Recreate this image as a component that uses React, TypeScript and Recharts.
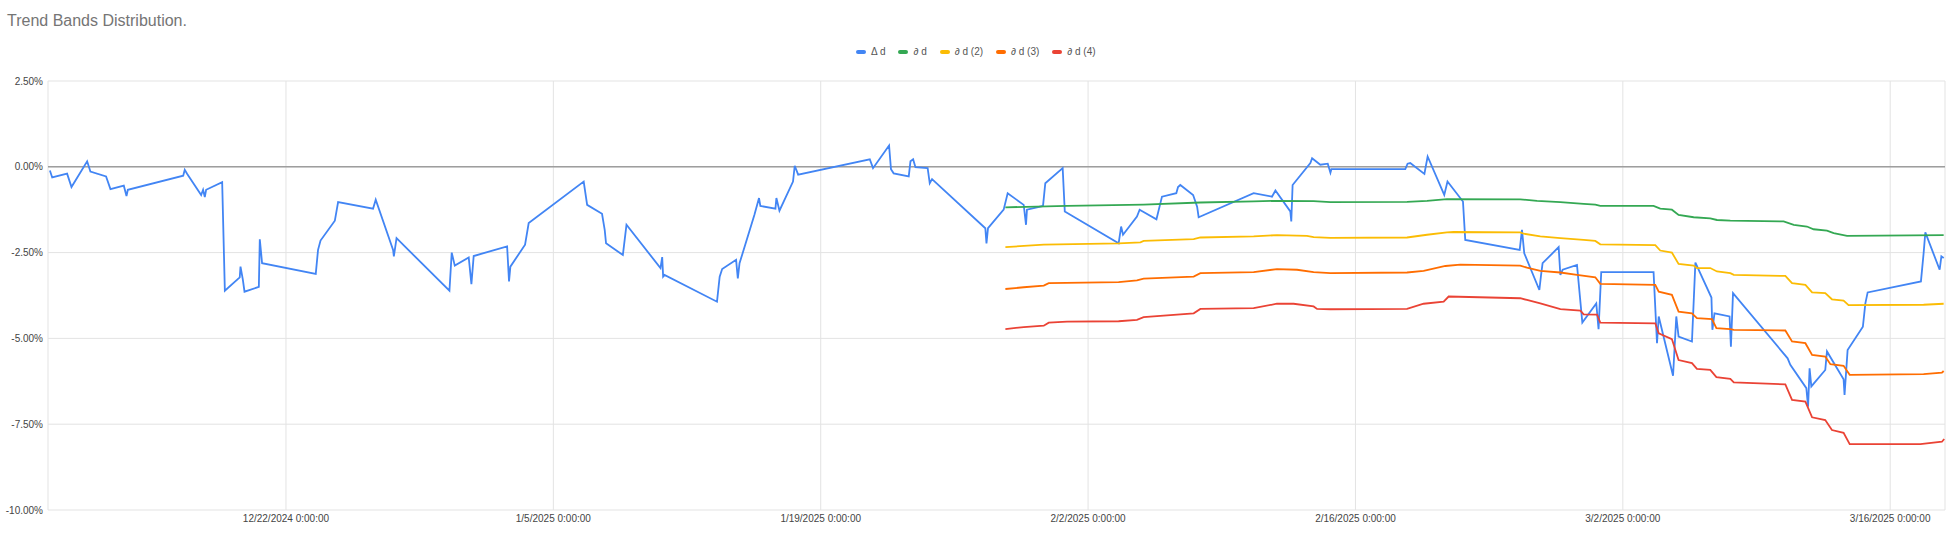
import React from 'react';
import { LineChart, Line, XAxis, YAxis, CartesianGrid, ReferenceLine } from 'recharts';

// x values are days since 12/22/2024 0:00, y values are percent
const tickDays = [0, 14, 28, 42, 56, 70, 84];
const tickLabels = [
  '12/22/2024 0:00:00',
  '1/5/2025 0:00:00',
  '1/19/2025 0:00:00',
  '2/2/2025 0:00:00',
  '2/16/2025 0:00:00',
  '3/2/2025 0:00:00',
  '3/16/2025 0:00:00',
];
const yTicks = [-10, -7.5, -5, -2.5, 0, 2.5];

const deltaDays = [
  -12.36, -12.24, -11.46, -11.23, -10.41, -10.24, -9.42, -9.19, -8.49, -8.35, -8.28, -5.38, -5.3, -5.17,
  -4.44, -4.34, -4.25, -4.18, -3.34, -3.2, -2.42, -2.38, -2.26, -2.17, -1.42, -1.37, -1.25, 1.56, 1.68,
  1.81, 2.56, 2.73, 4.56, 4.7, 5.61, 5.65, 5.79, 8.56, 8.68, 8.84, 9.57, 9.71, 9.83, 11.58, 11.68, 11.75,
  12.52, 12.71, 15.59, 15.77, 16.55, 16.69, 16.76, 17.64, 17.83, 19.61, 19.7, 19.75, 19.82, 22.57, 22.71,
  22.84, 23.57, 23.66, 23.75, 24.53, 24.77, 24.84, 25.63, 25.68, 25.84, 26.55, 26.64, 26.82, 30.57, 30.74,
  31.58, 31.68, 31.82, 32.61, 32.7, 32.84, 32.96, 33.6, 33.71, 33.83, 36.62, 36.68, 36.76, 37.58, 37.79,
  38.63, 38.75, 38.8, 39.64, 39.76, 40.67, 40.78, 43.6, 43.73, 43.83, 44.56, 44.7, 45.58, 45.87, 46.62,
  46.71, 46.83, 47.5, 47.71, 47.79, 50.67, 51.63, 51.81, 52.59, 52.64, 52.71, 53.64, 53.73, 54.16, 54.55,
  54.69, 54.74, 58.61, 58.73, 58.87, 59.61, 59.78, 60.65, 60.82, 61.63, 61.75, 64.6, 64.72, 64.84, 65.63,
  65.72, 65.8, 66.64, 66.73, 66.85, 67.6, 67.88, 68.61, 68.73, 68.87, 71.61, 71.79, 71.88, 72.63, 72.8,
  72.92, 73.62, 73.8, 74.64, 74.69, 74.8, 75.59, 75.66, 75.77, 78.63, 78.77, 79.61, 79.7, 79.78, 79.87,
  80.6, 80.69, 81.56, 81.61, 81.77, 82.57, 82.7, 82.82, 85.61, 85.75, 85.84, 86.59, 86.68, 86.8,
];
const deltaVals = [
  -0.11, -0.31, -0.2, -0.59, 0.16, -0.14, -0.28, -0.65, -0.55, -0.85, -0.67, -0.26, -0.09, -0.21,
  -0.82, -0.67, -0.88, -0.67, -0.45, -3.61, -3.22, -2.91, -3.28, -3.64, -3.5, -2.11, -2.81, -3.12, -2.42,
  -2.15, -1.57, -1.03, -1.22, -0.96, -2.42, -2.61, -2.08, -3.61, -2.5, -2.88, -2.64, -3.42, -2.6, -2.32, -3.34, -2.91,
  -2.27, -1.64, -0.43, -1.11, -1.37, -1.84, -2.23, -2.57, -1.69, -2.95, -2.63, -3.2, -3.15, -3.93, -3.2,
  -2.98, -2.71, -3.25, -2.81, -1.4, -0.91, -1.14, -1.22, -0.91, -1.28, -0.43, 0.03, -0.23, 0.22, -0.04,
  0.62, -0.07, -0.19, -0.28, 0.16, 0.22, -0.01, -0.04, -0.48, -0.36, -1.79, -2.23, -1.79, -1.25, -0.77,
  -1.11, -1.69, -1.25, -1.14, -0.48, -0.04, -1.3, -2.23, -1.74, -1.98, -1.45, -1.25, -1.53, -0.87, -0.77,
  -0.59, -0.53, -0.82, -1.16, -1.47, -0.77, -0.87, -0.69, -1.3, -1.59, -0.53, 0.11, 0.25, 0.06, 0.09,
  -0.17, -0.07, -0.07, 0.09, 0.11, -0.21, 0.3, -0.82, -0.43, -1.01, -2.13, -2.42, -1.84, -2.52, -3.59,
  -3.15, -2.81, -2.34, -3.15, -3.0, -2.86, -4.54, -3.98, -4.73, -3.07, -3.07, -5.14, -4.36, -6.09, -4.36,
  -4.95, -5.09, -2.79, -3.81, -4.75, -4.27, -4.36, -5.24, -3.68, -5.58, -5.77, -6.45, -6.99, -5.87, -6.4,
  -5.92, -5.38, -6.19, -6.65, -5.34, -4.66, -3.98, -3.66, -3.34, -2.52, -1.91, -3.0, -2.61, -2.66,
];

const band1Days = [
  37.67, 40.9, 44.91, 47.88, 50.67, 51.89, 53.81, 54.69, 58.7, 59.75, 60.79, 64.63, 65.51, 66.73, 67.95,
  68.56, 68.82, 71.61, 71.96, 72.57, 72.92, 73.71, 74.58, 74.93, 75.63, 78.42, 78.95, 79.64, 79.99, 80.69,
  81.04, 81.74, 86.8,
];
const band1Vals = [
  -1.18, -1.14, -1.1, -1.04, -1.01, -0.99, -1.0, -1.03, -1.02, -0.99, -0.94, -0.95, -0.99, -1.03, -1.08,
  -1.1, -1.14, -1.14, -1.22, -1.25, -1.4, -1.47, -1.5, -1.55, -1.57, -1.59, -1.69, -1.74, -1.82, -1.86,
  -1.93, -2.01, -1.99,
];

const band2Days = [
  37.67, 39.68, 43.6, 44.74, 44.91, 47.53, 47.88, 50.67, 51.89, 53.46, 53.81, 54.69, 58.7, 59.75, 60.79,
  61.14, 64.63, 64.81, 65.68, 66.73, 67.95, 68.56, 68.82, 71.7, 71.96, 72.57, 72.92, 73.71, 73.88, 74.58,
  74.93, 75.63, 75.81, 78.51, 78.86, 79.56, 79.91, 80.6, 80.95, 81.56, 81.82, 85.75, 86.8,
];
const band2Vals = [
  -2.34, -2.27, -2.23, -2.2, -2.16, -2.11, -2.06, -2.03, -1.99, -2.01, -2.05, -2.07, -2.06, -1.98, -1.91,
  -1.9, -1.91, -1.95, -2.03, -2.08, -2.13, -2.16, -2.26, -2.28, -2.44, -2.5, -2.83, -2.88, -2.95, -2.95,
  -3.05, -3.1, -3.15, -3.18, -3.39, -3.44, -3.66, -3.68, -3.86, -3.9, -4.03, -4.02, -3.99,
];

const band3Days = [
  37.67, 38.63, 39.68, 39.94, 43.6, 44.56, 44.91, 47.53, 47.88, 50.67, 51.89, 52.94, 53.81, 54.69, 58.7,
  59.57, 60.71, 61.49, 64.63, 64.98, 65.68, 66.73, 67.6, 68.56, 68.82, 71.7, 71.88, 72.57, 72.92, 73.62,
  73.88, 74.67, 74.9, 75.63, 75.81, 78.51, 78.86, 79.56, 79.91, 80.6, 80.87, 81.56, 81.88, 85.75, 86.71,
  86.8,
];
const band3Vals = [
  -3.56, -3.51, -3.46, -3.39, -3.36, -3.31, -3.26, -3.2, -3.1, -3.07, -2.98, -3.0, -3.07, -3.1, -3.08,
  -3.03, -2.89, -2.85, -2.88, -2.94, -3.03, -3.08, -3.15, -3.22, -3.41, -3.44, -3.64, -3.73, -4.22, -4.27,
  -4.41, -4.44, -4.7, -4.73, -4.75, -4.77, -5.09, -5.14, -5.48, -5.53, -5.75, -5.8, -6.06, -6.04, -6.0,
  -5.95,
];

const band4Days = [
  37.67, 38.63, 39.68, 39.94, 40.9, 43.6, 44.56, 44.91, 47.53, 47.88, 50.67, 51.89, 52.76, 53.81, 53.99,
  54.69, 58.7, 59.57, 60.62, 60.88, 64.63, 64.98, 65.68, 66.73, 67.78, 67.95, 68.65, 68.82, 71.7, 71.88,
  72.57, 72.92, 73.62, 73.88, 74.58, 74.9, 75.63, 75.81, 78.51, 78.86, 79.56, 79.91, 80.6, 80.95, 81.56,
  81.88, 85.58, 86.71, 86.83,
];
const band4Vals = [
  -4.73, -4.67, -4.63, -4.54, -4.51, -4.5, -4.46, -4.38, -4.27, -4.14, -4.12, -3.99, -3.99, -4.07, -4.14,
  -4.15, -4.14, -3.99, -3.93, -3.78, -3.83, -3.88, -3.98, -4.15, -4.19, -4.3, -4.31, -4.54, -4.56, -4.85,
  -5.02, -5.63, -5.72, -5.89, -5.92, -6.13, -6.18, -6.28, -6.34, -6.79, -6.84, -7.3, -7.38, -7.67, -7.75,
  -8.08, -8.08, -8.01, -7.93,
];

const toPoints = (days: number[], vals: number[]) => days.map((d, i) => ({ d, v: vals[i] }));

const series = [
  { name: 'Δ d', color: '#4285F4', points: toPoints(deltaDays, deltaVals) },
  { name: '∂ d', color: '#34A853', points: toPoints(band1Days, band1Vals) },
  { name: '∂ d (2)', color: '#FBBC04', points: toPoints(band2Days, band2Vals) },
  { name: '∂ d (3)', color: '#FF6D01', points: toPoints(band3Days, band3Vals) },
  { name: '∂ d (4)', color: '#EA4335', points: toPoints(band4Days, band4Vals) },
];

const font = 'Arial, "Liberation Sans", sans-serif';

const App: React.FC = () => {
  return (
    <div style={{ position: 'relative', width: 1960, height: 535, background: '#fff', fontFamily: font }}>
      <style>{'body { margin: 0; }'}</style>
      <div style={{ position: 'absolute', left: 7, top: 12, fontSize: 16, lineHeight: '18px', color: '#757575' }}>
        Trend Bands Distribution.
      </div>
      <div style={{ position: 'absolute', left: 856, top: 46, display: 'flex', alignItems: 'center', fontSize: 10, color: '#555' }}>
        {series.map((s) => (
          <div key={s.name} style={{ display: 'flex', alignItems: 'center', marginRight: 13 }}>
            <span style={{ display: 'inline-block', width: 10, height: 4, borderRadius: 2, background: s.color, marginRight: 5 }} />
            <span>{s.name}</span>
          </div>
        ))}
      </div>
      <LineChart
        width={1960}
        height={535}
        margin={{ top: 81, right: 15, bottom: 0, left: 0 }}
        style={{ position: 'absolute', left: 0, top: 0 }}
      >
        <CartesianGrid stroke="#e3e3e3" />
        <XAxis
          dataKey="d"
          type="number"
          domain={[-12.46, 86.87]}
          ticks={tickDays}
          interval={0}
          allowDataOverflow
          tickFormatter={(v: number) => tickLabels[tickDays.indexOf(v)] ?? ''}
          axisLine={false}
          tickLine={false}
          tickSize={3}
          tickMargin={2}
          height={25}
          tick={{ fontSize: 10, fill: '#444', fontFamily: font }}
        />
        <YAxis
          type="number"
          domain={[-10, 2.5]}
          ticks={yTicks}
          interval={0}
          tickFormatter={(v: number) => `${v.toFixed(2)}%`}
          axisLine={false}
          tickLine={false}
          tickSize={3}
          tickMargin={2}
          width={48}
          tick={{ fontSize: 10, fill: '#444', fontFamily: font }}
        />
        <ReferenceLine y={0} stroke="#9e9e9e" strokeWidth={1.6} />
        {series.map((s) => (
          <Line
            key={s.name}
            data={s.points}
            dataKey="v"
            name={s.name}
            type="linear"
            stroke={s.color}
            strokeWidth={1.8}
            dot={false}
            activeDot={false}
            isAnimationActive={false}
          />
        ))}
      </LineChart>
    </div>
  );
};

export default App;
